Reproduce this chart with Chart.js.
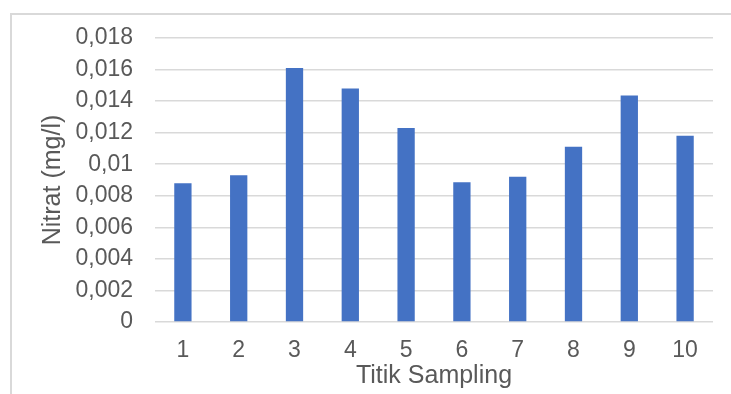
<!DOCTYPE html>
<html>
<head>
<meta charset="utf-8">
<title>Nitrat per Titik Sampling</title>
<script src="https://cdn.jsdelivr.net/npm/chart.js@4.4.1/dist/chart.umd.min.js"></script>
<style>
    html, body { margin: 0; padding: 0; background: #ffffff; }
    #wrap { position: relative; width: 731px; height: 394px; overflow: hidden; }
    #frame {
        position: absolute; left: 10px; top: 13px;
        width: 800px; height: 500px;
        border: 2px solid #d9d9d9; box-sizing: border-box;
    }
    #chartBox { position: absolute; left: 0; top: 0; width: 731px; height: 394px; }
</style>
</head>
<body>
<div id="wrap">
    <div id="frame"></div>
    <div id="chartBox"><canvas id="nitratChart"></canvas></div>
</div>
<script>
// Data
var categories = ['1', '2', '3', '4', '5', '6', '7', '8', '9', '10'];
var nitratValues = [0.0088, 0.0093, 0.0161, 0.0148, 0.0123, 0.00885, 0.0092, 0.0111, 0.01435, 0.0118];
var yTickLabels = ['0', '0,002', '0,004', '0,006', '0,008', '0,01', '0,012', '0,014', '0,016', '0,018'];

var textColor = '#595959';
var gridColor = '#d9d9d9';
var fontFamily = "'Liberation Sans', Arial, sans-serif";

/**
 * Bar chart of nitrate concentration per sampling point
 */
function initNitratChart() {
    var canvas = document.getElementById('nitratChart');
    if (!canvas) return;

    new Chart(canvas.getContext('2d'), {
        type: 'bar',
        data: {
            labels: categories,
            datasets: [
                {
                    label: 'Nitrat',
                    data: nitratValues,
                    backgroundColor: '#4472c4',
                    borderWidth: 0,
                    categoryPercentage: 1,
                    barPercentage: 0.31
                }
            ]
        },
        options: {
            responsive: true,
            maintainAspectRatio: false,
            animation: false,
            layout: {
                padding: { top: 38, right: 18, bottom: 0, left: 0 }
            },
            plugins: {
                legend: { display: false },
                title: { display: false },
                tooltip: { enabled: false }
            },
            scales: {
                y: {
                    min: 0,
                    max: 0.018,
                    ticks: {
                        stepSize: 0.002,
                        padding: 22,
                        color: textColor,
                        font: { size: 23, family: fontFamily },
                        callback: function(value, index) { return yTickLabels[index]; }
                    },
                    grid: { color: gridColor, lineWidth: 1.5, drawTicks: false },
                    border: { display: false },
                    title: {
                        display: true,
                        text: 'Nitrat (mg/l)',
                        color: textColor,
                        font: { size: 25, family: fontFamily },
                        padding: { top: 38, bottom: 0 }
                    },
                    afterFit: function(scale) { scale.width = 155; }
                },
                x: {
                    ticks: {
                        padding: 15,
                        color: textColor,
                        font: { size: 23, family: fontFamily }
                    },
                    grid: { display: false, drawTicks: false },
                    border: { display: false },
                    title: {
                        display: true,
                        text: 'Titik Sampling',
                        color: textColor,
                        font: { size: 25, family: fontFamily },
                        padding: { top: 0, bottom: 3 }
                    },
                    afterFit: function(scale) { scale.height = 72; }
                }
            }
        }
    });
}

initNitratChart();
</script>
</body>
</html>
